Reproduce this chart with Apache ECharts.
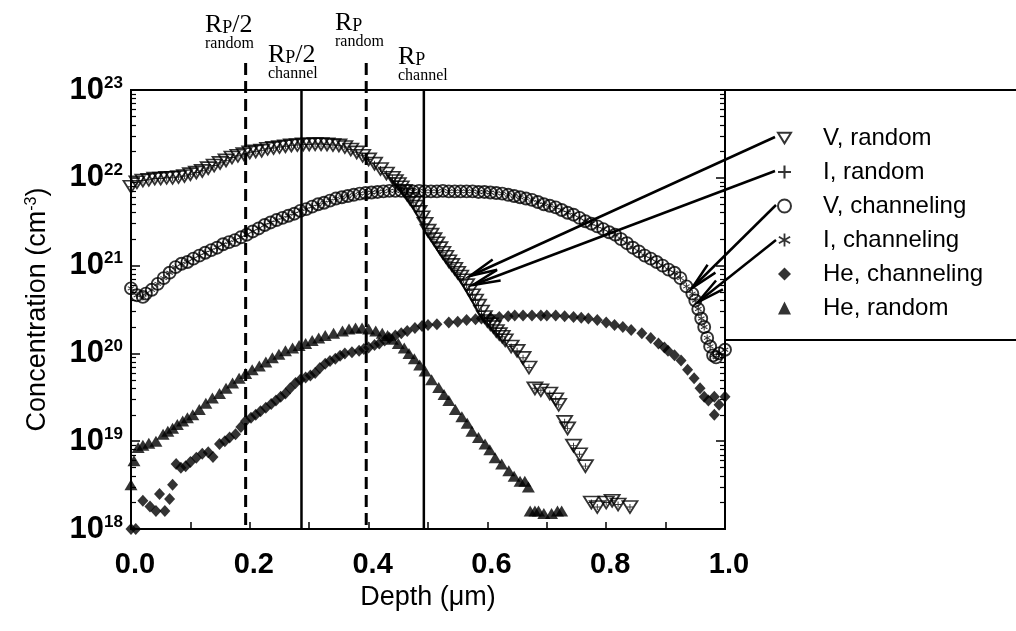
<!DOCTYPE html>
<html><head><meta charset="utf-8">
<script src="https://cdn.jsdelivr.net/npm/echarts@6/dist/echarts.min.js"></script>
<style>html,body{margin:0;padding:0;background:#fff}#c{width:1016px;height:631px}</style>
</head><body><div id="c"></div>
<script>
// ---------------- data ----------------
const xTickValues = [0, 0.2, 0.4, 0.6, 0.8, 1.0];
const yDecades = [1e18, 1e19, 1e20, 1e21, 1e22, 1e23];
const seriesNames = ['V, random', 'I, random', 'V, channeling', 'I, channeling', 'He, channeling', 'He, random'];

const vRandom = [
 [0.00,7.9e21],[0.01,8.9e21],[0.02,9.3e21],[0.03,9.5e21],[0.04,9.8e21],[0.05,9.8e21],[0.06,1.0e22],[0.07,1.0e22],
 [0.08,1.02e22],[0.09,1.05e22],[0.10,1.1e22],[0.11,1.15e22],[0.12,1.2e22],[0.13,1.29e22],[0.14,1.38e22],[0.15,1.48e22],
 [0.16,1.58e22],[0.17,1.7e22],[0.18,1.78e22],[0.19,1.86e22],[0.20,1.95e22],[0.21,2.0e22],[0.22,2.04e22],[0.23,2.14e22],
 [0.24,2.19e22],[0.25,2.24e22],[0.26,2.29e22],[0.27,2.34e22],[0.28,2.36e22],[0.29,2.4e22],[0.30,2.4e22],[0.31,2.42e22],
 [0.32,2.42e22],[0.33,2.4e22],[0.34,2.36e22],[0.35,2.34e22],[0.36,2.24e22],[0.37,2.1e22],[0.38,1.95e22],[0.39,1.78e22],
 [0.40,1.62e22],[0.41,1.45e22],[0.42,1.26e22],[0.43,1.12e22],[0.44,1.0e22],[0.445,9.2e21],[0.45,8.5e21],[0.455,7.8e21],
 [0.46,7.1e21],[0.465,6.4e21],[0.47,5.75e21],[0.475,5.2e21],[0.48,4.7e21],[0.485,4.1e21],[0.49,3.55e21],[0.495,3.0e21],
 [0.50,2.5e21],[0.505,2.25e21],[0.51,2.0e21],[0.515,1.8e21],[0.52,1.58e21],[0.525,1.4e21],[0.53,1.26e21],[0.535,1.12e21],
 [0.54,1.02e21],[0.545,9.2e20],[0.55,8.3e20],[0.555,7.5e20],[0.56,6.8e20],[0.565,6.0e20],[0.57,5.2e20],[0.575,4.6e20],
 [0.58,4.0e20],[0.585,3.5e20],[0.59,3.0e20],[0.595,2.6e20],[0.60,2.34e20],[0.605,2.15e20],[0.61,2.0e20],[0.615,1.8e20],
 [0.62,1.66e20],[0.625,1.55e20],[0.63,1.41e20],[0.64,1.2e20],[0.65,1.07e20],[0.66,8.9e19],[0.67,6.9e19],[0.68,4.0e19],
 [0.69,3.8e19],[0.705,3.5e19],[0.715,3.0e19],[0.72,2.6e19],[0.73,1.66e19],[0.735,1.4e19],[0.745,8.9e18],[0.755,7.1e18],
 [0.765,5.2e18],[0.775,2.0e18],[0.785,1.78e18],[0.80,2.0e18],[0.81,2.1e18],[0.82,1.9e18],[0.84,1.78e18]
];
const iRandom = vRandom; // the "+" points sit inside the V random triangles

const vChannel = [
 [0.000,5.5e20],[0.010,4.6e20],[0.020,4.4e20],[0.025,4.8e20],[0.035,5.3e20],[0.045,6.2e20],[0.055,7.2e20],[0.065,8.3e20],
 [0.075,9.6e20],[0.085,1.05e21],[0.095,1.1e21],[0.105,1.2e21],[0.115,1.3e21],[0.125,1.4e21],[0.135,1.5e21],[0.145,1.6e21],
 [0.155,1.75e21],[0.165,1.85e21],[0.175,1.95e21],[0.185,2.1e21],[0.195,2.25e21],[0.205,2.45e21],[0.215,2.65e21],[0.225,2.9e21],
 [0.235,3.1e21],[0.245,3.3e21],[0.255,3.5e21],[0.265,3.7e21],[0.275,3.9e21],[0.285,4.2e21],[0.295,4.4e21],[0.305,4.7e21],
 [0.315,5.0e21],[0.325,5.2e21],[0.335,5.5e21],[0.345,5.8e21],[0.355,6.0e21],[0.365,6.2e21],[0.375,6.4e21],[0.385,6.6e21],
 [0.395,6.7e21],[0.405,6.8e21],[0.415,6.9e21],[0.425,7.0e21],[0.435,7.1e21],[0.445,7.1e21],[0.455,7.1e21],[0.465,7.1e21],
 [0.475,7.0e21],[0.485,7.1e21],[0.495,7.0e21],[0.505,7.0e21],[0.515,7.0e21],[0.525,7.1e21],[0.535,7.0e21],[0.545,7.0e21],
 [0.555,7.0e21],[0.565,7.0e21],[0.575,7.0e21],[0.585,6.9e21],[0.595,6.9e21],[0.605,6.8e21],[0.615,6.7e21],[0.625,6.6e21],
 [0.635,6.4e21],[0.645,6.2e21],[0.655,6.0e21],[0.665,5.8e21],[0.675,5.6e21],[0.685,5.3e21],[0.695,5.0e21],[0.705,4.8e21],
 [0.715,4.6e21],[0.725,4.3e21],[0.735,4.0e21],[0.745,3.8e21],[0.755,3.5e21],[0.765,3.2e21],[0.775,3.0e21],[0.785,2.8e21],
 [0.795,2.6e21],[0.805,2.4e21],[0.815,2.25e21],[0.825,2.0e21],[0.835,1.8e21],[0.845,1.6e21],[0.855,1.45e21],[0.865,1.3e21],
 [0.875,1.2e21],[0.885,1.1e21],[0.895,1.0e21],[0.905,9.0e20],[0.915,8.3e20],[0.925,7.2e20],[0.935,5.8e20],[0.945,4.8e20],
 [0.950,4.0e20],[0.955,3.2e20],[0.960,2.5e20],[0.965,2.0e20],[0.970,1.5e20],[0.975,1.2e20],[0.980,9.5e19],[0.985,9.0e19],
 [0.990,1.0e20],[1.000,1.1e20]
];
const iChannel = vChannel; // the asterisks sit inside the V channeling circles

const heChannel = [
 [0.000,1.0e18],[0.008,1.0e18],[0.020,2.1e18],[0.032,1.8e18],[0.042,1.6e18],[0.048,2.5e18],[0.057,1.6e18],[0.065,2.2e18],
 [0.070,3.2e18],[0.076,5.5e18],[0.084,5.0e18],[0.092,5.2e18],[0.100,5.8e18],[0.110,6.5e18],[0.120,7.2e18],[0.130,7.5e18],
 [0.138,6.6e18],[0.149,9.3e18],[0.158,1.0e19],[0.166,1.1e19],[0.176,1.2e19],[0.185,1.45e19],[0.193,1.7e19],[0.202,1.85e19],
 [0.210,2.0e19],[0.218,2.2e19],[0.227,2.4e19],[0.236,2.65e19],[0.244,2.9e19],[0.252,3.2e19],[0.260,3.5e19],[0.268,4.0e19],
 [0.277,4.6e19],[0.285,5.0e19],[0.294,5.3e19],[0.302,5.6e19],[0.310,6.0e19],[0.318,6.8e19],[0.327,7.6e19],[0.335,8.2e19],
 [0.344,8.7e19],[0.352,9.4e19],[0.360,1.0e20],[0.372,1.03e20],[0.384,1.07e20],[0.392,1.12e20],[0.400,1.17e20],[0.410,1.25e20],
 [0.418,1.3e20],[0.427,1.4e20],[0.435,1.5e20],[0.445,1.6e20],[0.455,1.7e20],[0.465,1.8e20],[0.478,1.95e20],[0.490,2.05e20],
 [0.500,2.1e20],[0.515,2.15e20],[0.535,2.25e20],[0.550,2.3e20],[0.565,2.4e20],[0.580,2.45e20],[0.590,2.5e20],[0.605,2.55e20],
 [0.620,2.6e20],[0.635,2.65e20],[0.646,2.7e20],[0.660,2.7e20],[0.675,2.7e20],[0.690,2.7e20],[0.700,2.7e20],[0.715,2.7e20],
 [0.730,2.65e20],[0.745,2.6e20],[0.758,2.55e20],[0.770,2.5e20],[0.785,2.4e20],[0.800,2.25e20],[0.814,2.1e20],[0.828,2.0e20],
 [0.842,1.85e20],[0.860,1.7e20],[0.875,1.5e20],[0.888,1.3e20],[0.898,1.17e20],[0.904,1.07e20],[0.915,9.5e19],[0.926,8.3e19],
 [0.937,6.5e19],[0.948,5.2e19],[0.958,4.0e19],[0.965,3.2e19],[0.972,2.9e19],[0.982,3.2e19],[0.982,2.0e19],[0.990,2.6e19],
 [1.000,3.2e19]
];

const heRandom = [
 [0.000,3.2e18],[0.005,6.0e18],[0.012,8.5e18],[0.020,9.0e18],[0.030,9.5e18],[0.042,1.0e19],[0.054,1.2e19],[0.062,1.3e19],
 [0.070,1.4e19],[0.078,1.55e19],[0.087,1.7e19],[0.095,1.85e19],[0.104,2.0e19],[0.115,2.3e19],[0.126,2.7e19],[0.137,3.1e19],
 [0.149,3.5e19],[0.160,4.0e19],[0.171,4.6e19],[0.182,5.2e19],[0.193,5.9e19],[0.204,6.5e19],[0.216,7.2e19],[0.227,8.0e19],
 [0.238,8.9e19],[0.249,9.8e19],[0.260,1.07e20],[0.272,1.15e20],[0.283,1.23e20],[0.294,1.3e20],[0.305,1.4e20],[0.316,1.5e20],
 [0.327,1.6e20],[0.341,1.7e20],[0.356,1.8e20],[0.367,1.9e20],[0.378,1.95e20],[0.389,1.95e20],[0.400,1.9e20],[0.412,1.8e20],
 [0.423,1.7e20],[0.432,1.6e20],[0.440,1.45e20],[0.450,1.3e20],[0.460,1.15e20],[0.468,1.0e20],[0.477,8.7e19],[0.486,7.4e19],
 [0.495,6.3e19],[0.506,5.0e19],[0.518,4.1e19],[0.527,3.4e19],[0.535,2.9e19],[0.546,2.3e19],[0.557,1.9e19],[0.566,1.6e19],
 [0.574,1.3e19],[0.585,1.1e19],[0.596,9.3e18],[0.604,8.0e18],[0.613,6.5e18],[0.624,5.5e18],[0.636,4.6e18],[0.645,4.0e18],
 [0.655,3.5e18],[0.663,3.5e18],[0.669,3.0e18],[0.672,1.6e18],[0.680,1.6e18],[0.686,1.6e18],[0.695,1.5e18],[0.708,1.5e18],
 [0.718,1.6e18],[0.725,1.6e18]
];

// projected-range reference depths (um): Rp/2 random, Rp/2 channel, Rp random, Rp channel
const rpDepths = [0.193, 0.287, 0.396, 0.493];
const rpDashed = [true, false, true, false];

// ---------------- chart ----------------
const FONT = 'Arial, "Liberation Sans", sans-serif';
const SERIF = '"Times New Roman", "Liberation Serif", serif';
const minorLogTicks = [];
for (let e = 18; e < 23; e++) for (let k = 2; k <= 9; k++) minorLogTicks.push(e + Math.log10(k));

const SYM_TRI_DOWN = 'path://M0,0 L16,0 L8,13 Z';
const SYM_PLUS = 'path://M4.2,0 L5.8,0 L5.8,4.2 L10,4.2 L10,5.8 L5.8,5.8 L5.8,10 L4.2,10 L4.2,5.8 L0,5.8 L0,4.2 L4.2,4.2 Z';
const SYM_AST = 'path://M4.3,0 L5.7,0 L5.7,10 L4.3,10 Z M8.98,1.89 L9.68,3.11 L1.02,8.11 L0.32,6.89 Z M9.68,6.89 L8.98,8.11 L0.32,3.11 L1.02,1.89 Z';

const chart = echarts.init(document.getElementById('c'), null, {renderer: 'canvas'});

const grid = {left: 131, right: 291, top: 90, bottom: 102};

function arrow(x1, y1, x2, y2) {
  const ang = Math.atan2(y1 - y2, x1 - x2);
  const L = 28, a = 0.2;
  const b1 = [x2 + L * Math.cos(ang + a), y2 + L * Math.sin(ang + a)];
  const b2 = [x2 + L * Math.cos(ang - a), y2 + L * Math.sin(ang - a)];
  return [
    {type: 'line', shape: {x1, y1, x2, y2}, style: {stroke: '#000', lineWidth: 2.5}},
    {type: 'polyline', shape: {points: [b1, [x2, y2], b2]}, style: {stroke: '#000', lineWidth: 2.5, fill: null}}
  ];
}

function rpLabel(x, yTop, main, sub) {
  return [
    {type: 'text', left: x, top: yTop, style: {text: main, font: 'normal 26px ' + SERIF, fill: '#000',
      rich: {r: {fontSize: 26, fontFamily: SERIF, verticalAlign: 'bottom'}, p: {fontSize: 18, fontFamily: SERIF, verticalAlign: 'bottom', padding: [0, 0, 1, 0]}}}},
    {type: 'text', left: x, top: yTop + 24, style: {text: sub, font: 'normal 16px ' + SERIF, fill: '#000'}}
  ];
}

const graphics = [].concat(
  [{type: 'line', shape: {x1: 725, y1: 90, x2: 1016, y2: 90}, style: {stroke: '#000', lineWidth: 2}},
   {type: 'line', shape: {x1: 725, y1: 340, x2: 1016, y2: 340}, style: {stroke: '#000', lineWidth: 2}}],
  arrow(775, 137, 470, 276),
  arrow(775, 171, 473, 285),
  arrow(776, 205, 692, 288),
  arrow(776, 240, 698, 302),
  rpLabel(205, 12, '{r|R}{p|P}{r|/2}', 'random'),
  rpLabel(268, 42, '{r|R}{p|P}{r|/2}', 'channel'),
  rpLabel(335, 10, '{r|R}{p|P}', 'random'),
  rpLabel(398, 44, '{r|R}{p|P}', 'channel')
);

const option = {
  backgroundColor: '#fff',
  animation: false,
  grid: Object.assign({show: true, borderColor: '#000', borderWidth: 2, backgroundColor: 'transparent'}, grid),
  legend: {
    orient: 'vertical', left: 772, top: 121, itemWidth: 13, itemHeight: 13, itemGap: 10,
    textStyle: {fontFamily: FONT, fontSize: 24, color: '#000', padding: [0, 0, 0, 27]},
    data: seriesNames
  },
  xAxis: {
    type: 'value', min: 0, max: 1, interval: 0.2,
    axisLine: {show: true, lineStyle: {color: '#000', width: 2}},
    axisTick: {show: true, inside: true, length: 7, lineStyle: {color: '#000', width: 1.5}},
    minorTick: {show: true, splitNumber: 2, length: 7, lineStyle: {color: '#000', width: 1.5}},
    splitLine: {show: false},
    axisLabel: {formatter: v => v.toFixed(1), fontFamily: FONT, fontWeight: 'bold', fontSize: 29, color: '#000', margin: 21, padding: [0, 0, 0, 8]},
    name: 'Depth (\u03bcm)', nameLocation: 'middle', nameGap: 50,
    nameTextStyle: {fontFamily: FONT, fontSize: 27, color: '#000'}
  },
  yAxis: [
    {
      type: 'log', logBase: 10, min: 1e18, max: 1e23, position: 'left',
      axisLine: {show: true, lineStyle: {color: '#000', width: 2}},
      axisTick: {show: true, inside: true, length: 9, lineStyle: {color: '#000', width: 1.5}},
      splitLine: {show: false},
      axisLabel: {
        margin: 8,
        formatter: v => '{b|10}{s|' + Math.round(Math.log10(v)) + '}',
        rich: {
          b: {fontFamily: FONT, fontWeight: 'bold', fontSize: 31, color: '#000'},
          s: {fontFamily: FONT, fontWeight: 'bold', fontSize: 17, color: '#000', verticalAlign: 'top'}
        }
      },
      name: '{n|Concentration (cm}{s|-3}{n|)}', nameLocation: 'middle', nameGap: 80,
      nameTextStyle: {rich: {
        n: {fontFamily: FONT, fontSize: 27, color: '#000'},
        s: {fontFamily: FONT, fontSize: 16, color: '#000', verticalAlign: 'top'}
      }}
    },
    {
      type: 'value', min: 18, max: 23, position: 'left', offset: 0,
      axisLine: {show: false}, axisLabel: {show: false}, splitLine: {show: false},
      axisTick: {show: true, inside: true, length: 5, customValues: minorLogTicks, lineStyle: {color: '#000', width: 1.2}}
    },
    {
      type: 'value', min: 18, max: 23, position: 'right', offset: 0,
      axisLine: {show: true, lineStyle: {color: '#000', width: 2}}, axisLabel: {show: false}, splitLine: {show: false},
      axisTick: {show: true, inside: true, length: 5, customValues: minorLogTicks, lineStyle: {color: '#000', width: 1.2}}
    },
    {
      type: 'log', logBase: 10, min: 1e18, max: 1e23, position: 'right', offset: 0,
      axisLine: {show: false}, axisLabel: {show: false}, splitLine: {show: false},
      axisTick: {show: true, inside: true, length: 9, lineStyle: {color: '#000', width: 1.5}}
    }
  ],
  graphic: graphics,
  series: [
    {
      type: 'custom', name: 'refLines', silent: true, clip: false, z: 1,
      data: rpDepths.map(d => [d, 1e20]),
      renderItem: (params, api) => {
        const x = api.value(0);
        const dashed = rpDashed[params.dataIndex];
        const pb = api.coord([x, 1e18]);
        const pt = api.coord([x, 1e23]);
        return {type: 'line', shape: {x1: pt[0], y1: dashed ? pt[1] - 27 : pt[1], x2: pb[0], y2: pb[1]},
          style: {stroke: '#000', lineWidth: dashed ? 3 : 2.5, lineDash: dashed ? [12, 6] : null}};
      }
    },
    {name: 'He, random', type: 'scatter', data: heRandom, symbol: 'triangle', symbolSize: [13, 11],
     itemStyle: {color: '#000'}, z: 2},
    {name: 'He, channeling', type: 'scatter', data: heChannel, symbol: 'diamond', symbolSize: [11, 12],
     itemStyle: {color: '#000'}, z: 2},
    {name: 'V, channeling', type: 'scatter', data: vChannel, symbol: 'circle', symbolSize: 12,
     itemStyle: {color: 'transparent', borderColor: '#000', borderWidth: 1.9}, z: 3},
    {name: 'I, channeling', type: 'scatter', data: iChannel, symbol: SYM_AST, symbolSize: 7,
     itemStyle: {color: '#000'}, z: 3},
    {name: 'V, random', type: 'scatter', data: vRandom, symbol: SYM_TRI_DOWN, symbolSize: [15, 12],
     itemStyle: {color: 'transparent', borderColor: '#000', borderWidth: 1.8}, z: 4},
    {name: 'I, random', type: 'scatter', data: iRandom, symbol: SYM_PLUS, symbolSize: 6,
     itemStyle: {color: '#000'}, z: 4}
  ]
};
chart.setOption(option);
</script>
</body></html>
